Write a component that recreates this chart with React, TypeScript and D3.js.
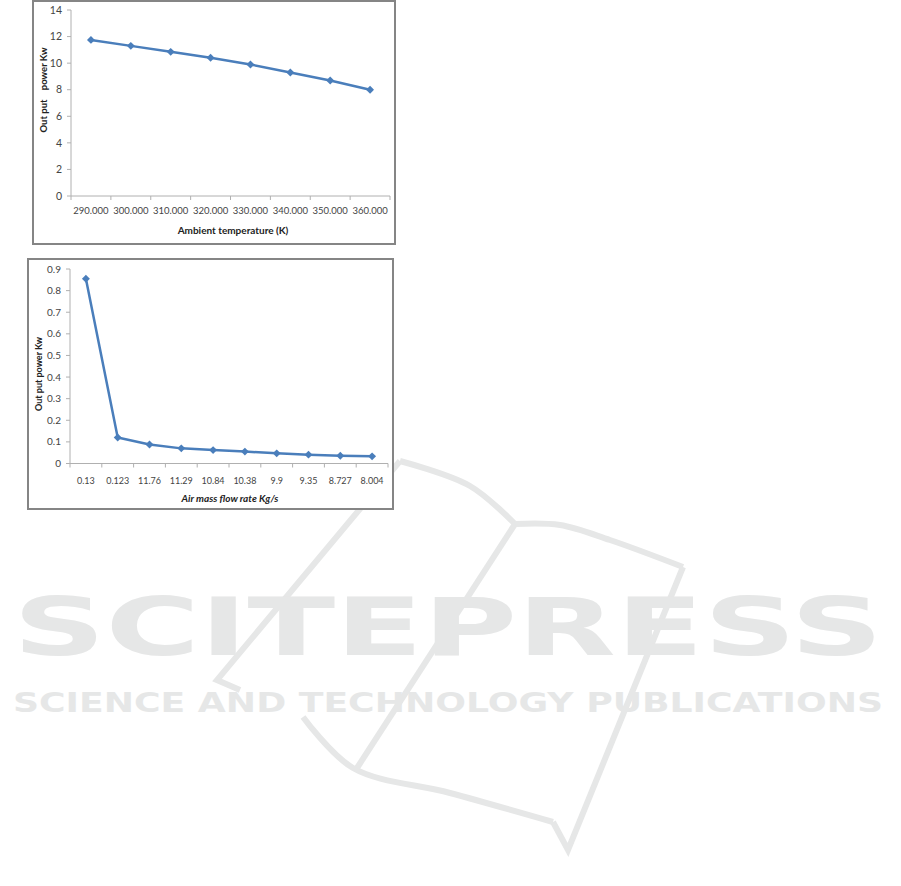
import React from "react";
import * as d3 from "d3";

// ---- Data ----
const tempLabels = ["290.000", "300.000", "310.000", "320.000", "330.000", "340.000", "350.000", "360.000"];
const powerVsTemp = [11.75, 11.3, 10.85, 10.4, 9.9, 9.3, 8.7, 8.0];
const tempYTicks = [0, 2, 4, 6, 8, 10, 12, 14];

const flowLabels = ["0.13", "0.123", "11.76", "11.29", "10.84", "10.38", "9.9", "9.35", "8.727", "8.004"];
const powerVsFlow = [0.855, 0.12, 0.088, 0.07, 0.062, 0.055, 0.047, 0.041, 0.036, 0.033];
const flowYTicks = [0, 0.1, 0.2, 0.3, 0.4, 0.5, 0.6, 0.7, 0.8, 0.9];

const watermarkTitle = "SCITEPRESS";
const watermarkSubtitle = "SCIENCE AND TECHNOLOGY PUBLICATIONS";

const LINE = "#4a7ebb";
const FONT = "Lato, 'Open Sans', sans-serif";

type ChartProps = {
  frame: { x: number; y: number; w: number; h: number };
  plot: { left: number; right: number; top: number; bottom: number };
  labels: string[];
  values: number[];
  yMax: number;
  yTicks: number[];
  tickFont: number;
  xLabelY: number;
  xTitle: string;
  xTitleY: number;
  xTitleX: number;
  xTitleItalic?: boolean;
  yTitle: string;
  yTitleX: number;
  yTitleY: number;
  yTitleFont: number;
};

function Chart(p: ChartProps) {
  const x = d3.scaleBand<string>().domain(p.labels).range([p.plot.left, p.plot.right]).padding(0);
  const y = d3.scaleLinear().domain([0, p.yMax]).range([p.plot.bottom, p.plot.top]);
  const cx = (i: number) => (x(p.labels[i]) as number) + x.bandwidth() / 2;
  const line = d3
    .line<number>()
    .x((_, i) => cx(i))
    .y((d) => y(d));
  const marker = d3.symbol().type(d3.symbolDiamond2).size(40)() as string;
  const boundaries = p.labels.map((l) => x(l) as number).concat([p.plot.right]);
  const axisColor = "#b0b0b0";
  return (
    <g>
      <rect x={p.frame.x} y={p.frame.y} width={p.frame.w} height={p.frame.h} fill="#fff" stroke="#858585" strokeWidth={2} />
      {/* y axis */}
      <line x1={p.plot.left} x2={p.plot.left} y1={p.plot.top} y2={p.plot.bottom} stroke={axisColor} strokeWidth={1} />
      {p.yTicks.map((t) => (
        <g key={t}>
          <line x1={p.plot.left - 4} x2={p.plot.left} y1={y(t)} y2={y(t)} stroke={axisColor} />
          <text x={p.plot.left - 9} y={y(t)} dy="0.35em" textAnchor="end" fontSize={p.tickFont + 1} fill="#444" fontFamily={FONT}>
            {String(t)}
          </text>
        </g>
      ))}
      {/* x axis */}
      <line x1={p.plot.left} x2={p.plot.right} y1={p.plot.bottom} y2={p.plot.bottom} stroke={axisColor} strokeWidth={1} />
      {boundaries.map((b, i) => (
        <line key={i} x1={b} x2={b} y1={p.plot.bottom} y2={p.plot.bottom + 4} stroke={axisColor} />
      ))}
      {p.labels.map((l, i) => (
        <text key={l} x={cx(i)} y={p.xLabelY} textAnchor="middle" fontSize={p.tickFont} fill="#444" fontFamily={FONT}>
          {l}
        </text>
      ))}
      <text
        x={p.xTitleX}
        y={p.xTitleY}
        textAnchor="middle"
        fontSize={10}
        fontWeight="bold"
        fontStyle={p.xTitleItalic ? "italic" : "normal"}
        fill="#222"
        fontFamily={FONT}
      >
        {p.xTitle}
      </text>
      <text
        transform={`translate(${p.yTitleX},${p.yTitleY}) rotate(-90)`}
        textAnchor="middle"
        fontSize={p.yTitleFont}
        fontWeight="bold"
        fill="#222"
        fontFamily={FONT}
        style={{ whiteSpace: "pre" }}
      >
        {p.yTitle}
      </text>
      {/* series */}
      <path d={line(p.values) as string} fill="none" stroke={LINE} strokeWidth={2.5} strokeLinejoin="round" />
      {p.values.map((v, i) => (
        <path key={i} d={marker} transform={`translate(${cx(i)},${y(v)})`} fill={LINE} />
      ))}
    </g>
  );
}

function Watermark() {
  const c = "#e6e7e7";
  // Stylised book outline (decorative logo behind text)
  const outer = d3.line().curve(d3.curveCatmullRom)([
    [515, 524],
    [470, 486],
    [400, 461],
  ] as [number, number][]);
  const topRight = d3.line().curve(d3.curveCatmullRom)([
    [683, 567],
    [610, 540],
    [560, 525],
    [515, 524],
  ] as [number, number][]);
  const leftArm = d3.line()([
    [400, 461],
    [217, 680],
    [240, 690],
  ] as [number, number][]);
  const bottom = d3.line().curve(d3.curveCatmullRom)([
    [303, 717],
    [353, 768],
    [450, 793],
    [553, 822],
  ] as [number, number][]);
  const rightArm = d3.line()([
    [553, 822],
    [568, 850],
    [683, 567],
  ] as [number, number][]);
  const inner = d3.line()([
    [515, 524],
    [357, 768],
  ] as [number, number][]);
  return (
    <g>
      {[outer, topRight, leftArm, bottom, rightArm, inner].map((d, i) => (
        <path key={i} d={d as string} fill="none" stroke={c} strokeWidth={6} strokeLinejoin="miter" />
      ))}
      <text
        x={13}
        y={655}
        fontSize={80}
        fontWeight="bold"
        fill={c}
        fontFamily="'DejaVu Sans', sans-serif"
        textLength={870}
        lengthAdjust="spacingAndGlyphs"
      >
        {watermarkTitle}
      </text>
      <text
        x={13}
        y={712}
        fontSize={27}
        fontWeight="bold"
        fill={c}
        fontFamily="'DejaVu Sans', sans-serif"
        textLength={870}
        lengthAdjust="spacingAndGlyphs"
      >
        {watermarkSubtitle}
      </text>
    </g>
  );
}

export default function App() {
  return (
    <svg width={901} height={886} style={{ position: "absolute", left: 0, top: 0, background: "#fff" }}>
      <rect x={0} y={0} width={901} height={886} fill="#fff" />
      <Watermark />
      <Chart
        frame={{ x: 33, y: 1, w: 362, h: 243 }}
        plot={{ left: 71, right: 390, top: 10, bottom: 196 }}
        labels={tempLabels}
        values={powerVsTemp}
        yMax={14}
        yTicks={tempYTicks}
        tickFont={9.5}
        xLabelY={214}
        xTitle="Ambient temperature (K)"
        xTitleX={233}
        xTitleY={233.5}
        yTitle="Out put    power Kw"
        yTitleX={46.5}
        yTitleY={90}
        yTitleFont={9.5}
      />
      <Chart
        frame={{ x: 28, y: 259, w: 365, h: 250 }}
        plot={{ left: 70, right: 388, top: 269, bottom: 463.5 }}
        labels={flowLabels}
        values={powerVsFlow}
        yMax={0.9}
        yTicks={flowYTicks}
        tickFont={9}
        xLabelY={483.5}
        xTitle="Air mass flow rate Kg/s"
        xTitleX={230}
        xTitleY={501.5}
        xTitleItalic={true}
        yTitle="Out put power Kw"
        yTitleX={41.5}
        yTitleY={374}
        yTitleFont={9}
      />
    </svg>
  );
}
